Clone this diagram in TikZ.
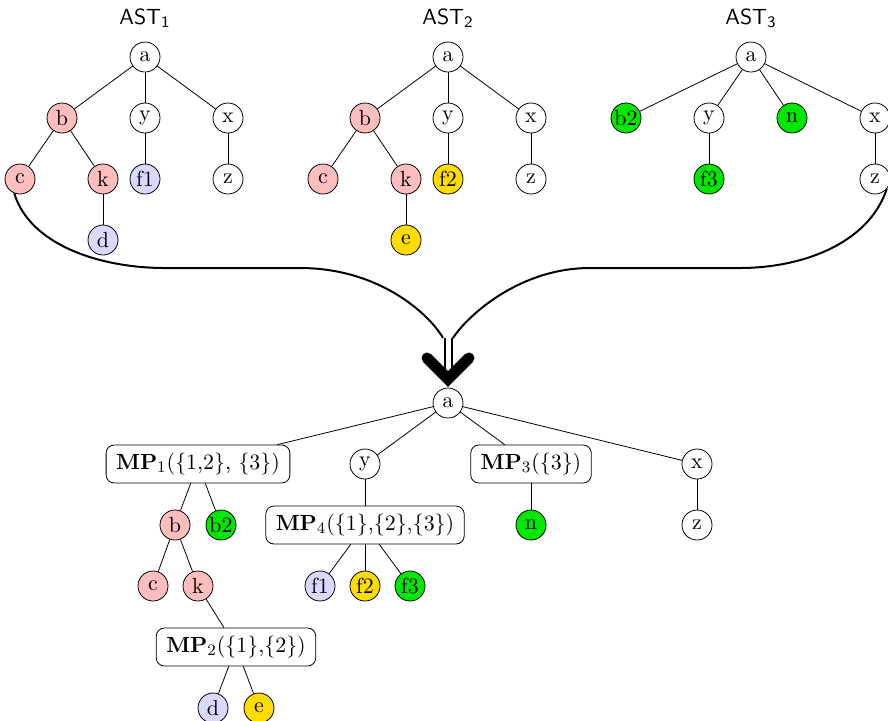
\documentclass[tikz,border=0pt,11pt]{standalone}
\usetikzlibrary{positioning}

\definecolor{astred}{RGB}{255,190,190}
\definecolor{astblue}{RGB}{217,217,255}
\definecolor{astgold}{RGB}{255,221,0}
\definecolor{astgreen}{RGB}{0,232,0}

\begin{document}
\begin{tikzpicture}[x=0.5pt,y=-0.5pt]
      \tikzset{
        node distance=30.5pt,
        vert/.style={circle,draw,inner sep=0pt,minimum size=15pt},
        mpbox/.style={rectangle,draw,rounded corners=4pt,inner xsep=5pt,inner ysep=4pt,minimum height=18pt},
        title/.style={font=\sffamily}
      }
      \useasboundingbox (0,0) rectangle (888,720);

      % AST 1
      \node[title] (t1) at (145,18) {AST\textsubscript{1}};
      \node[vert] (a1) at (145,57) {a};
      \node[vert,fill=astred] (b1) at (62,118) {b};
      \node[vert,below of=a1] (y1) {y};
      \node[vert] (x1) at (228,118) {x};
      \node[vert,fill=astred] (c1) at (20,179) {c};
      \node[vert,fill=astred] (k1) at (103,179) {k};
      \node[vert,fill=astblue,below of=y1] (f1) {f1};
      \node[vert,below of=x1] (z1) {z};
      \node[vert,fill=astblue,below of=k1] (d1) {d};

      \draw (a1) edge[] (b1)
            (a1) edge[] (y1)
            (a1) edge[] (x1)
            (b1) edge[] (c1)
            (b1) edge[] (k1)
            (y1) edge[] (f1)
            (x1) edge[] (z1)
            (k1) edge[] (d1);

      % AST 2
      \node[title] (t2) at (448,18) {AST\textsubscript{2}};
      \node[vert] (a2) at (448,57) {a};
      \node[vert,fill=astred] (b2) at (365,118) {b};
      \node[vert,below of=a2] (y2) {y};
      \node[vert] (x2) at (531,118) {x};
      \node[vert,fill=astred] (c2) at (323,179) {c};
      \node[vert,fill=astred] (k2) at (406,179) {k};
      \node[vert,fill=astgold,below of=y2] (f2) {f2};
      \node[vert,below of=x2] (z2) {z};
      \node[vert,fill=astgold,below of=k2] (e2) {e};

      \draw (a2) edge[] (b2)
            (a2) edge[] (y2)
            (a2) edge[] (x2)
            (b2) edge[] (c2)
            (b2) edge[] (k2)
            (y2) edge[] (f2)
            (x2) edge[] (z2)
            (k2) edge[] (e2);

      % AST 3
      \node[title] (t3) at (751,18) {AST\textsubscript{3}};
      \node[vert] (a3) at (751,57) {a};
      \node[vert,fill=astgreen] (bb3) at (626,118) {b2};
      \node[vert] (y3) at (709,118) {y};
      \node[vert,fill=astgreen] (n3) at (792,118) {n};
      \node[vert] (x3) at (875,118) {x};
      \node[vert,fill=astgreen,below of=y3] (f3) {f3};
      \node[vert,below of=x3] (z3) {z};

      \draw (a3) edge[] (bb3)
            (a3) edge[] (y3)
            (a3) edge[] (n3)
            (a3) edge[] (x3)
            (y3) edge[] (f3)
            (x3) edge[] (z3);

      % merge arrow
      \coordinate (jl) at (443,338);
      \coordinate (jr) at (453,338);
      \coordinate (jn) at (448,338);
      \coordinate (tip) at (448,374);
      \draw[line width=1pt] (c1.-112) .. controls (30,245) and (100,268) .. (165,268)
            -- (300,268) .. controls (380,268) and (430,315) .. (jl);
      \draw[line width=1pt] (z3.-40) .. controls (868,245) and (800,268) .. (740,268)
            -- (590,268) .. controls (520,268) and (468,315) .. (jr);
      \draw[line width=1pt,double distance=2.5pt] (jn) -- (tip);
      \draw[line width=5.5pt,line cap=round,miter limit=4] (427,358) -- (448,379) -- (469,358);

      % merged tree
      \node[vert] (ra) at (448,403) {a};
      \node[mpbox] (mp1) at (198,464) {\textbf{MP}$_1$(\{1,2\}, \{3\})};
      \node[vert,below of=ra,xshift=-41.5pt] (ry) {y};
      \node[mpbox] (mp3) at (531,464) {\textbf{MP}$_3$(\{3\})};
      \node[vert] (rx) at (697,464) {x};
      \node[vert,fill=astred] (rb) at (175,525) {b};
      \node[vert,fill=astgreen] (rbb) at (221,525) {b2};
      \node[mpbox,below of=ry] (mp4) {\textbf{MP}$_4$(\{1\},\{2\},\{3\})};
      \node[vert,fill=astgreen,below of=mp3] (rn) {n};
      \node[vert,below of=rx] (rz) {z};
      \node[vert,fill=astred] (rc) at (153,586) {c};
      \node[vert,fill=astred] (rk) at (198,586) {k};
      \node[vert,fill=astblue] (rf1) at (320,586) {f1};
      \node[vert,fill=astgold,below of=mp4] (rf2) {f2};
      \node[vert,fill=astgreen] (rf3) at (410,586) {f3};
      \node[mpbox] (mp2) at (236,647) {\textbf{MP}$_2$(\{1\},\{2\})};
      \node[vert,fill=astblue] (rd) at (213,708) {d};
      \node[vert,fill=astgold] (re) at (259,708) {e};

      \draw (ra) edge[] (mp1)
            (ra) edge[] (ry)
            (ra) edge[] (mp3)
            (ra) edge[] (rx)
            (mp1) edge[] (rb)
            (mp1) edge[] (rbb)
            (ry) edge[] (mp4)
            (mp3) edge[] (rn)
            (rx) edge[] (rz)
            (rb) edge[] (rc)
            (rb) edge[] (rk)
            (mp4) edge[] (rf1)
            (mp4) edge[] (rf2)
            (mp4) edge[] (rf3)
            (rk) edge[] (mp2)
            (mp2) edge[] (rd)
            (mp2) edge[] (re);
    \end{tikzpicture}
\end{document}
